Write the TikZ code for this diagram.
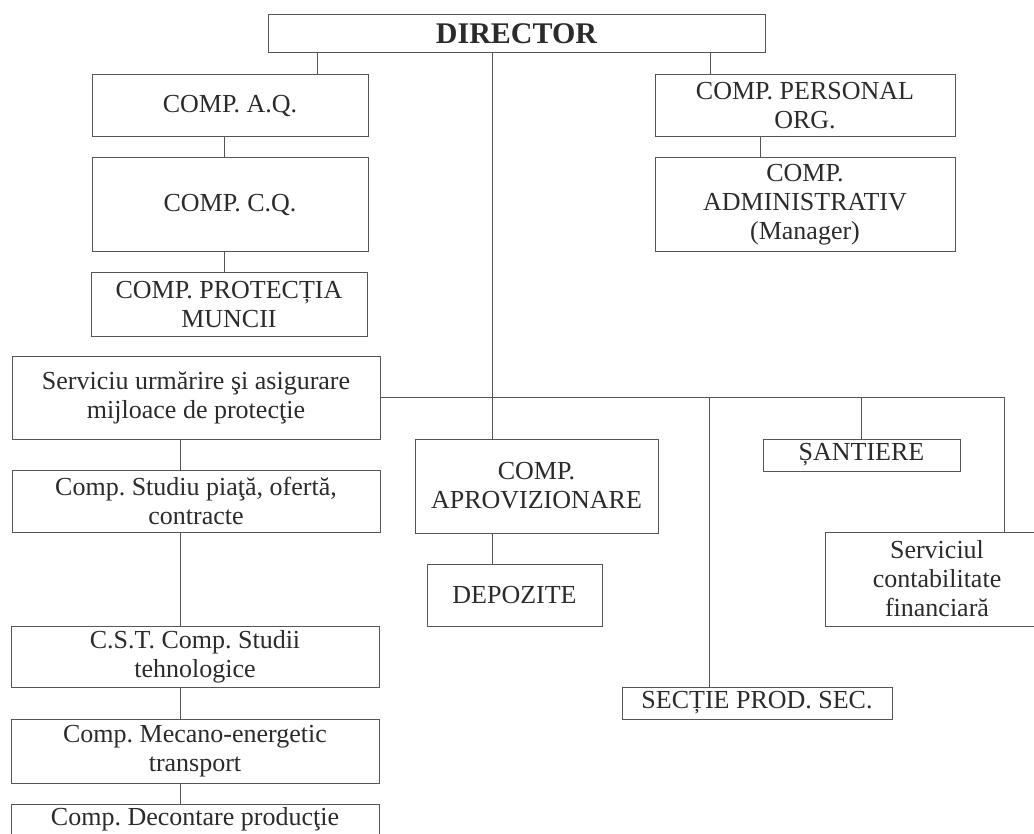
\documentclass[tikz,border=0pt]{standalone}
\usepackage{fontspec}
\setmainfont{Liberation Serif}
\frenchspacing
\definecolor{ink}{HTML}{2B2B2B}
\definecolor{frame}{HTML}{555555}

\begin{document}
\begin{tikzpicture}[x=1pt, y=-1pt,
     unit/.style = {draw=frame, line width=1pt, inner sep=2pt, align=center,
                    text=ink, font=\frenchspacing\fontsize{26}{29}\selectfont},
     head/.style = {unit, font=\bfseries\fontsize{30}{34}\selectfont},
     link/.style = {draw=frame, line width=1pt}
     ]
    \useasboundingbox (0,0) rectangle (1034,834);
    \clip (0,0) rectangle (1034,834);
    \node (dir)    [head, minimum width=497pt, minimum height=38pt] at (516.5,34) {DIRECTOR};
    \node (aq)     [unit, minimum width=276pt, minimum height=62pt] at (230,106) {COMP. A.Q.};
    \node (cq)     [unit, minimum width=276pt, minimum height=94pt] at (230,205) {COMP. C.Q.};
    \node (pm)     [unit, minimum width=276pt, minimum height=64pt] at (229,305) {COMP. PROTECȚIA\\MUNCII};
    \node (pers)   [unit, minimum width=300pt, minimum height=62pt] at (805,106) {COMP. PERSONAL\\ORG.};
    \node (adm)    [unit, minimum width=300pt, minimum height=94pt] at (805,205) {COMP.\\ADMINISTRATIV\\(Manager)};
    \node (serv)   [unit, minimum width=368pt, minimum height=82pt] at (196,398) {Serviciu urmărire şi asigurare\\mijloace de protecţie};
    \node (piata)  [unit, minimum width=368pt, minimum height=62pt] at (196,501) {Comp. Studiu piaţă, ofertă,\\contracte};
    \node (cst)    [unit, minimum width=368pt, minimum height=61pt] at (195,656.5) {C.S.T. Comp. Studii\\tehnologice};
    \node (meca)   [unit, minimum width=368pt, minimum height=64pt] at (195,751) {Comp. Mecano-energetic\\transport};
    \node (decont) [unit, minimum width=368pt, minimum height=62pt, anchor=north] at (195,804) {Comp. Decontare producţie\\\strut};
    \node (aprov)  [unit, minimum width=243pt, minimum height=94pt] at (536.5,486) {COMP.\\APROVIZIONARE};
    \node (depoz)  [unit, minimum width=175pt, minimum height=62pt] at (514.5,595) {DEPOZITE};
    \node (sant)   [unit, minimum width=197pt, minimum height=32pt] at (861.5,455) {ȘANTIERE};
    \node (contab) [unit, minimum width=224pt, minimum height=94pt] at (937,579) {Serviciul\\contabilitate\\financiară};
    \node (sectie) [unit, minimum width=270pt, minimum height=32pt] at (757,703) {SECȚIE PROD. SEC.};

    \coordinate (qa)  at ([xshift=-6pt]aq.south);
    \coordinate (col) at ([xshift=-16pt]serv.south);
    \draw[link] ([xshift=87pt]aq.north) -- ([xshift=87pt]aq.north |- dir.south);
    \draw[link] ([xshift=-44pt]aprov.north) -- ([xshift=-44pt]aprov.north |- dir.south);
    \draw[link] ([xshift=-95pt]pers.north) -- ([xshift=-95pt]pers.north |- dir.south);
    \draw[link] ([xshift=-45pt]pers.south) -- ([xshift=-45pt]pers.south |- adm.north);
    \foreach \a/\b in {aq/cq, cq/pm}
        \draw[link] (\a.south -| qa) -- (\b.north -| qa);
    \foreach \a/\b in {serv/piata, piata/cst, cst/meca, meca/decont}
        \draw[link] (\a.south -| col) -- (\b.north -| col);
    \draw[link] (serv.east) -| ([xshift=67pt]contab.north);
    \draw[link] (sant.north) -- (sant.north |- serv.east);
    \draw[link] ([xshift=-48pt]sectie.north) -- ([xshift=-48pt]sectie.north |- serv.east);
    \draw[link] ([xshift=-44pt]aprov.south) -- ([xshift=-44pt]aprov.south |- depoz.north);
\end{tikzpicture}
\end{document}
